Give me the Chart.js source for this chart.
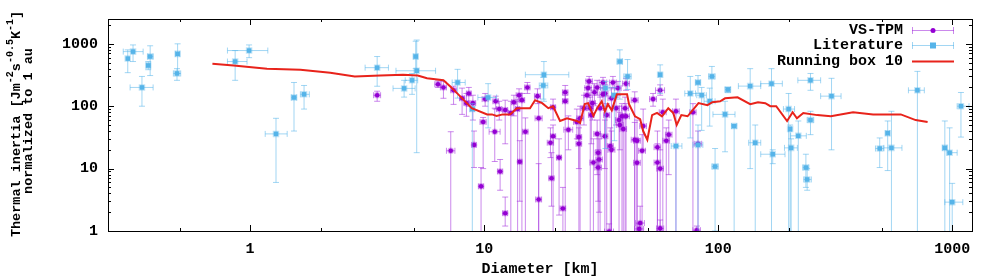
<!DOCTYPE html>
<html>
<head>
<meta charset="utf-8">
<script src="https://cdn.jsdelivr.net/npm/chart.js@4.4.0/dist/chart.umd.min.js"></script>
<style>
  html, body { margin: 0; padding: 0; background: #fff; }
</style>
</head>
<body>
<canvas id="chart" width="1000" height="279"></canvas>
<script>
// VS-TPM results
const vsD = [3.49,6.35,6.7,7.2,7.4,8.05,8.4,8.6,8.95,9.05, 9.7,9.9,10.1,11.1,11.2,11.6,11.7,12.3,12.3,13,
  13.4,13.9,14.1,14.2,14.5,15.3,15,16.9,17.1,17.1, 19.2,19.4,19.7,19.7,20.9,21.7,22.2,22.2,22.9,24.9,
  25.4,25.4,25.7,26.7,27.5,27.8,28.1,28.4,28.7,29, 29.6,30.4,30.4,30.7,31,29.3,30.7,31.3,32.2,32.8,
  32.2,33.4,32.8,34.6,34.2,35.5,35,35,36.6,37.3, 37.7,38,38.8,39.3,40,40.4,40.4,44,44,45,
  45,46.4,46,47.3,47.8,52.7,55,55,56.5,56.5, 56.5,58,60,61.5,66,78,82,81];
const vsDerr = [0.12,0.2,0.2,0.3,0.2,0.2,0.2,0.2,0.25,0.2, 0.25,0.3,0.3,0.6,0.3,0.3,0.3,0.3,0.3,0.3,
  0.3,0.3,0.4,0.3,0.4,0.4,0.4,0.5,0.6,0.5, 0.6,0.5,0.5,0.5,0.5,0.6,0.6,0.6,1,0.8,
  0.7,0.7,0.8,0.8,0.8,0.9,0.9,0.9,0.8,0.9, 1,1,1,0.9,1,1,1,1,1,1,
  1.2,1,1,1,1.5,1.2,1.2,1.2,1.2,1.2, 1.3,1.3,1.3,1.3,1.4,1.4,1.4,1.5,1.5,1.5,
  1.5,2,2,1.6,1.6,1.8,1.8,1.8,1.9,2, 2.5,2,2,2,2.2,2.5,3,3];
const vsTI = [150,225,200,19.3,180,134,112,160,112,24, 5.2,56,130,39,120,90,9,87,1.93,78,
  116,90,150,12.9,125,200,39,145,64,3.2, 26,7,33,96,15,2.3,167,120,42,56,
  32,25,64,93,150,195,250,93,72,112, 167,200,36,18,14,12.5,10.4,93,155,160,
  240,72,33,23,0.98,240,134,20,93,195, 60,50,69,43,93,69,230,125,29,28,
  12.4,1.34,1.08,19.3,48,130,22,12.5,10,1.1, 180,80,28,35,83,80,25,1.03];
const vsTIlo = [120,200,134,0.5,107,74,69,100,60,10.4, 0.5,10,100,13,90,60,4.5,25,1.2,0.5,
  70,0.5,120,3,0.5,160,0.5,110,0.5,0.5, 15,2.5,0.5,60,1.8,0.5,130,0.5,20,30,
  0.5,10,0.5,50,100,150,200,0.5,25,60, 110,150,8,0.5,2,0.5,3,0.5,100,0.5,
  190,0.5,10,0.5,0.5,190,0.5,0.5,50,150, 0.5,20,0.5,0.5,0.5,0.5,180,0.5,0.5,0.5,
  0.5,0.5,0.5,0.5,20,100,0.5,0.5,0.5,0.5, 150,0.5,0.5,8,0.5,0.5,0.5,0.5];
const vsTIhi = [174,255,250,39,209,195,160,200,150,40, 10.4,66,160,93,145,120,14,125,3.5,120,
  150,130,190,28,160,240,65,190,120,12, 45,18,50,130,30,5,215,150,70,90,
  64,45,100,150,200,260,300,140,100,150, 230,260,60,36,30,30,20,140,200,220,
  290,110,60,45,1.3,300,200,40,140,250, 100,80,110,75,140,110,280,170,55,60,
  30,2.5,1.3,35,90,160,40,25,20,1.5, 220,130,45,60,130,110,40,1.2];

// Literature values
const litD = [0.30,0.316,0.345,0.367,0.374,0.49,0.487,0.863,0.99,1.29, 1.54,1.70,3.49,4.55,4.92,5.1,5.15,7.7,10.4,8.9,
  18,17.9,38,41,33,36,56.5,76,82,85, 94,92,66,82,97,107,117,110,137,144,
  169,171,200,203,205,220,248,248,237,240, 305,490,530,550,710,930,975,1000,1090];
const litDlo = [0.30,0.287,0.307,0.36,0.365,0.48,0.47,0.80,0.80,1.16, 1.50,1.64,3.1,4.08,4.6,5.0,4.2,7.3,9.4,8.7,
  15,17.2,37,39.5,31.5,35,55.5,72,80,81, 91,87,63,78,94,95,114,107,122,135,
  152,152,190,200,192,204,240,219,230,232, 274,470,520,510,650,910,950,930,1050];
const litDhi = [0.30,0.349,0.385,0.375,0.385,0.5,0.505,0.97,1.19,1.44, 1.58,1.79,3.9,5.07,5.2,5.2,6.2,8.3,11.3,9.1,
  23,18.7,39,42.5,34.5,37,57.5,80,84,89, 97,97,70,86,100,118,120,113,152,152,
  188,193,212,206,218,238,256,274,244,250, 335,510,540,610,760,950,1050,1110,1180];
const litTI = [580,750,200,450,626,690,335,520,780,36, 138,155,415,193,260,626,370,240,138,90,
  320,215,520,300,195,150,320,160,240,150, 300,120,23,24,10.8,74,48,185,210,26,
  230,17,90,43,21.5,33.5,60,260,10.4,6.7, 145,21,37,21.5,180,21.5,18,2.9,100];
const litTIlo = [345,520,100,385,310,335,260,260,600,6, 40,90,209,140,155,400,18,135,45,0.5,
  120,130,130,185,21,28,160,31,160,41, 120,48,0.5,0.5,1,18.6,0.5,165,10,0.5,
  0.5,12,0.5,0.5,0.5,0.5,35,180,5,4.5, 20,10.4,9.3,0.5,0.5,0.5,0.5,0.5,32];
const litTIhi = [800,960,300,520,930,1000,400,780,960,64, 240,215,626,260,335,1100,1150,390,230,110,
  520,290,800,560,250,200,460,300,310,200, 434,195,23,50,21,120,50,200,400,50,
  400,20,160,50,30,58,83,335,17,10, 280,31,58,83,362,58,45,5.8,166];

// running box (10) mean
const boxD = [0.69,0.85,1.18,1.64,2.2,2.8,3.6,4.5,5.2,5.7, 6.7,7.15,7.75,8.85,10.3,10.8,11.3,12.0,12.9,13.8,
  15.7,16.5,17.7,18.8,19.7,21.1,22.6,24.9,25.7,26.9, 27.8,29.3,30.4,31.8,32.8,33.8,35.1,36.9,40.8,41.6,
  44.1,46.4,47.8,49.8,52.2,54.8,57.5,61.2,64.3,66.5, 69.6,74.0,82.4,90.0,94.4,102,107,121,137,148,
  159,167,177,197,208,217,231,265,303,377, 459,603,698,785];
const boxTI = [480,450,400,385,345,300,310,320,310,280, 260,209,155,93,74,74,70,74,74,93,
  93,125,112,93,100,58,64,58,54,108, 112,70,93,120,83,108,86,155,155,108,
  69,62,40,29,72,78,69,93,78,50, 72,69,112,104,116,120,134,139,108,116,
  112,100,100,58,80,64,78,72,69,80, 74,74,60,56];

const xTicks = [1, 10, 100, 1000];
const yTicks = [1, 10, 100, 1000];

const FONT = "'Liberation Mono', 'Courier New', monospace";
const PURPLE = '#9400d3', PURPLE_BAR = 'rgba(160,40,220,0.55)';
const BLUE = '#56b4e9', BLUE_BAR = 'rgba(86,180,233,0.55)';
const RED = '#e8231b';

Chart.defaults.font.family = FONT;
Chart.defaults.font.weight = 'bold';
Chart.defaults.font.size = 15;
Chart.defaults.color = '#000';

const vsPoints = vsD.map((d, i) => ({ x: d, y: vsTI[i] }));
const litPoints = litD.map((d, i) => ({ x: d, y: litTI[i] }));
const boxPoints = boxD.map((d, i) => ({ x: d, y: boxTI[i] }));

// error bars, drawn just before each dataset's points
const errorBars = {
  id: 'errorBars',
  beforeDatasetDraw(chart, args) {
    const ds = chart.data.datasets[args.index];
    if (!ds.err) return;
    const { ctx, chartArea: a, scales: { x, y } } = chart;
    const e = ds.err;
    ctx.save();
    ctx.beginPath();
    ctx.rect(a.left, a.top, a.right - a.left, a.bottom - a.top);
    ctx.clip();
    ctx.strokeStyle = ds.errColor;
    ctx.lineWidth = 1;
    ds.data.forEach((p, i) => {
      const px = x.getPixelForValue(p.x), py = y.getPixelForValue(p.y);
      const x0 = x.getPixelForValue(e.dlo[i]), x1 = x.getPixelForValue(e.dhi[i]);
      const y0 = y.getPixelForValue(e.tlo[i]), y1 = y.getPixelForValue(e.thi[i]);
      ctx.beginPath();
      ctx.moveTo(px, y0); ctx.lineTo(px, y1);
      ctx.moveTo(px - 3, y0); ctx.lineTo(px + 3, y0);
      ctx.moveTo(px - 3, y1); ctx.lineTo(px + 3, y1);
      if (x1 - x0 > 1) {
        ctx.moveTo(x0, py); ctx.lineTo(x1, py);
        ctx.moveTo(x0, py - 3); ctx.lineTo(x0, py + 3);
        ctx.moveTo(x1, py - 3); ctx.lineTo(x1, py + 3);
      }
      ctx.stroke();
    });
    ctx.restore();
  }
};

// frame with inward ticks (gnuplot style)
const frame = {
  id: 'frame',
  afterDatasetsDraw(chart) {
    const { ctx, chartArea: a, scales: { x, y } } = chart;
    ctx.save();
    ctx.strokeStyle = '#000';
    ctx.lineWidth = 1;
    ctx.beginPath();
    const minorX = [2, 5];
    for (const dec of [0.1, 1, 10, 100, 1000]) {
      const list = [[dec * 1, 6]].concat(minorX.map(m => [dec * m, 3]));
      for (const [v, len] of list) {
        if (v < x.min || v > x.max) continue;
        const px = Math.round(x.getPixelForValue(v)) + 0.5;
        ctx.moveTo(px, a.bottom); ctx.lineTo(px, a.bottom - len);
        ctx.moveTo(px, a.top); ctx.lineTo(px, a.top + len);
      }
    }
    for (const dec of [1, 10, 100, 1000]) {
      for (let m = 1; m < 10; m++) {
        const v = dec * m;
        if (v < y.min || v > y.max) continue;
        const len = m === 1 ? 6 : 3;
        const py = Math.round(y.getPixelForValue(v)) + 0.5;
        ctx.moveTo(a.left, py); ctx.lineTo(a.left + len, py);
        ctx.moveTo(a.right, py); ctx.lineTo(a.right - len, py);
      }
    }
    ctx.stroke();
    ctx.strokeRect(Math.round(a.left) + 0.5, Math.round(a.top) + 0.5,
      Math.round(a.right - a.left), Math.round(a.bottom - a.top));
    ctx.restore();
  }
};

function drawParts(ctx, parts, cx, cy, size) {
  const big = `bold ${size}px ${FONT}`, small = `bold ${Math.round(size * 0.72)}px ${FONT}`;
  let w = 0;
  for (const [t, sup] of parts) { ctx.font = sup ? small : big; w += ctx.measureText(t).width; }
  ctx.save();
  ctx.translate(cx, cy);
  ctx.rotate(-Math.PI / 2);
  ctx.textAlign = 'left';
  ctx.textBaseline = 'middle';
  let pos = -w / 2;
  for (const [t, sup] of parts) {
    ctx.font = sup ? small : big;
    ctx.fillText(t, pos, sup ? -size * 0.45 : 0);
    pos += ctx.measureText(t).width;
  }
  ctx.restore();
}

// axis titles + key
const labels = {
  id: 'labels',
  afterDraw(chart) {
    const { ctx, chartArea: a } = chart;
    ctx.save();
    ctx.fillStyle = '#000';
    ctx.font = `bold 15px ${FONT}`;
    ctx.textAlign = 'center';
    ctx.textBaseline = 'middle';
    ctx.fillText('Diameter [km]', (a.left + a.right) / 2, 269);

    drawParts(ctx, [['Thermal inertia [Jm', false], ['-2', true], ['s', false], ['-0.5', true],
      ['K', false], ['-1', true], [']', false]], 17, 124, 13.5);
    drawParts(ctx, [['normalized to 1 au', false]], 29, 121, 13.5);

    // key
    const tx = 903, x0 = 912, x1 = 954, xm = 933;
    const rows = [30, 45, 61];
    ctx.textAlign = 'right';
    ctx.font = `bold 15px ${FONT}`;
    ['VS-TPM', 'Literature', 'Running box 10'].forEach((t, i) => ctx.fillText(t, tx, rows[i]));

    [[PURPLE_BAR, rows[0]], [BLUE_BAR, rows[1]]].forEach(([c, ry]) => {
      ctx.strokeStyle = c; ctx.lineWidth = 1;
      ctx.beginPath();
      ctx.moveTo(x0, ry + 0.5); ctx.lineTo(x1, ry + 0.5);
      ctx.moveTo(x0 + 0.5, ry - 3); ctx.lineTo(x0 + 0.5, ry + 4);
      ctx.moveTo(x1 - 0.5, ry - 3); ctx.lineTo(x1 - 0.5, ry + 4);
      ctx.stroke();
    });
    ctx.fillStyle = PURPLE;
    ctx.beginPath(); ctx.arc(xm, rows[0] + 0.5, 2.5, 0, Math.PI * 2); ctx.fill();
    ctx.fillStyle = BLUE;
    ctx.fillRect(xm - 3, rows[1] - 2.5, 6, 6);
    ctx.strokeStyle = RED; ctx.lineWidth = 2;
    ctx.beginPath(); ctx.moveTo(x0, rows[2] + 0.5); ctx.lineTo(x1, rows[2] + 0.5); ctx.stroke();
    ctx.restore();
  }
};

new Chart(document.getElementById('chart'), {
  type: 'scatter',
  data: {
    datasets: [
      {
        label: 'Running box 10',
        data: boxPoints,
        showLine: true,
        borderColor: RED,
        borderWidth: 2,
        pointRadius: 0,
        tension: 0,
        order: 0
      },
      {
        label: 'Literature',
        data: litPoints,
        pointStyle: 'rect',
        pointRadius: 3.2,
        backgroundColor: BLUE,
        borderColor: 'rgba(86,180,233,0.35)',
        borderWidth: 2,
        err: { dlo: litDlo, dhi: litDhi, tlo: litTIlo, thi: litTIhi },
        errColor: BLUE_BAR,
        order: 1
      },
      {
        label: 'VS-TPM',
        data: vsPoints,
        pointStyle: 'circle',
        pointRadius: 2.3,
        backgroundColor: PURPLE,
        borderColor: 'rgba(148,0,211,0.3)',
        borderWidth: 2,
        err: {
          dlo: vsD.map((d, i) => d - vsDerr[i]),
          dhi: vsD.map((d, i) => d + vsDerr[i]),
          tlo: vsTIlo, thi: vsTIhi
        },
        errColor: PURPLE_BAR,
        order: 2
      }
    ]
  },
  options: {
    responsive: false,
    animation: false,
    devicePixelRatio: 1,
    layout: { padding: { top: 17, right: 28, left: 0, bottom: 0 } },
    plugins: { legend: { display: false }, tooltip: { enabled: false } },
    scales: {
      x: {
        type: 'logarithmic',
        min: 0.247,
        max: 1215,
        grid: { display: false, drawTicks: false },
        border: { display: false },
        afterBuildTicks: s => { s.ticks = xTicks.map(v => ({ value: v })); },
        afterFit: s => { s.height = 48; },
        ticks: { padding: 9, autoSkip: false, maxRotation: 0, callback: v => String(v) }
      },
      y: {
        type: 'logarithmic',
        min: 1,
        max: 2500,
        grid: { display: false, drawTicks: false },
        border: { display: false },
        afterBuildTicks: s => { s.ticks = yTicks.map(v => ({ value: v })); },
        afterFit: s => { s.width = 108; },
        ticks: { padding: 10, autoSkip: false, callback: v => String(v) }
      }
    }
  },
  plugins: [errorBars, frame, labels]
});
</script>
</body>
</html>
